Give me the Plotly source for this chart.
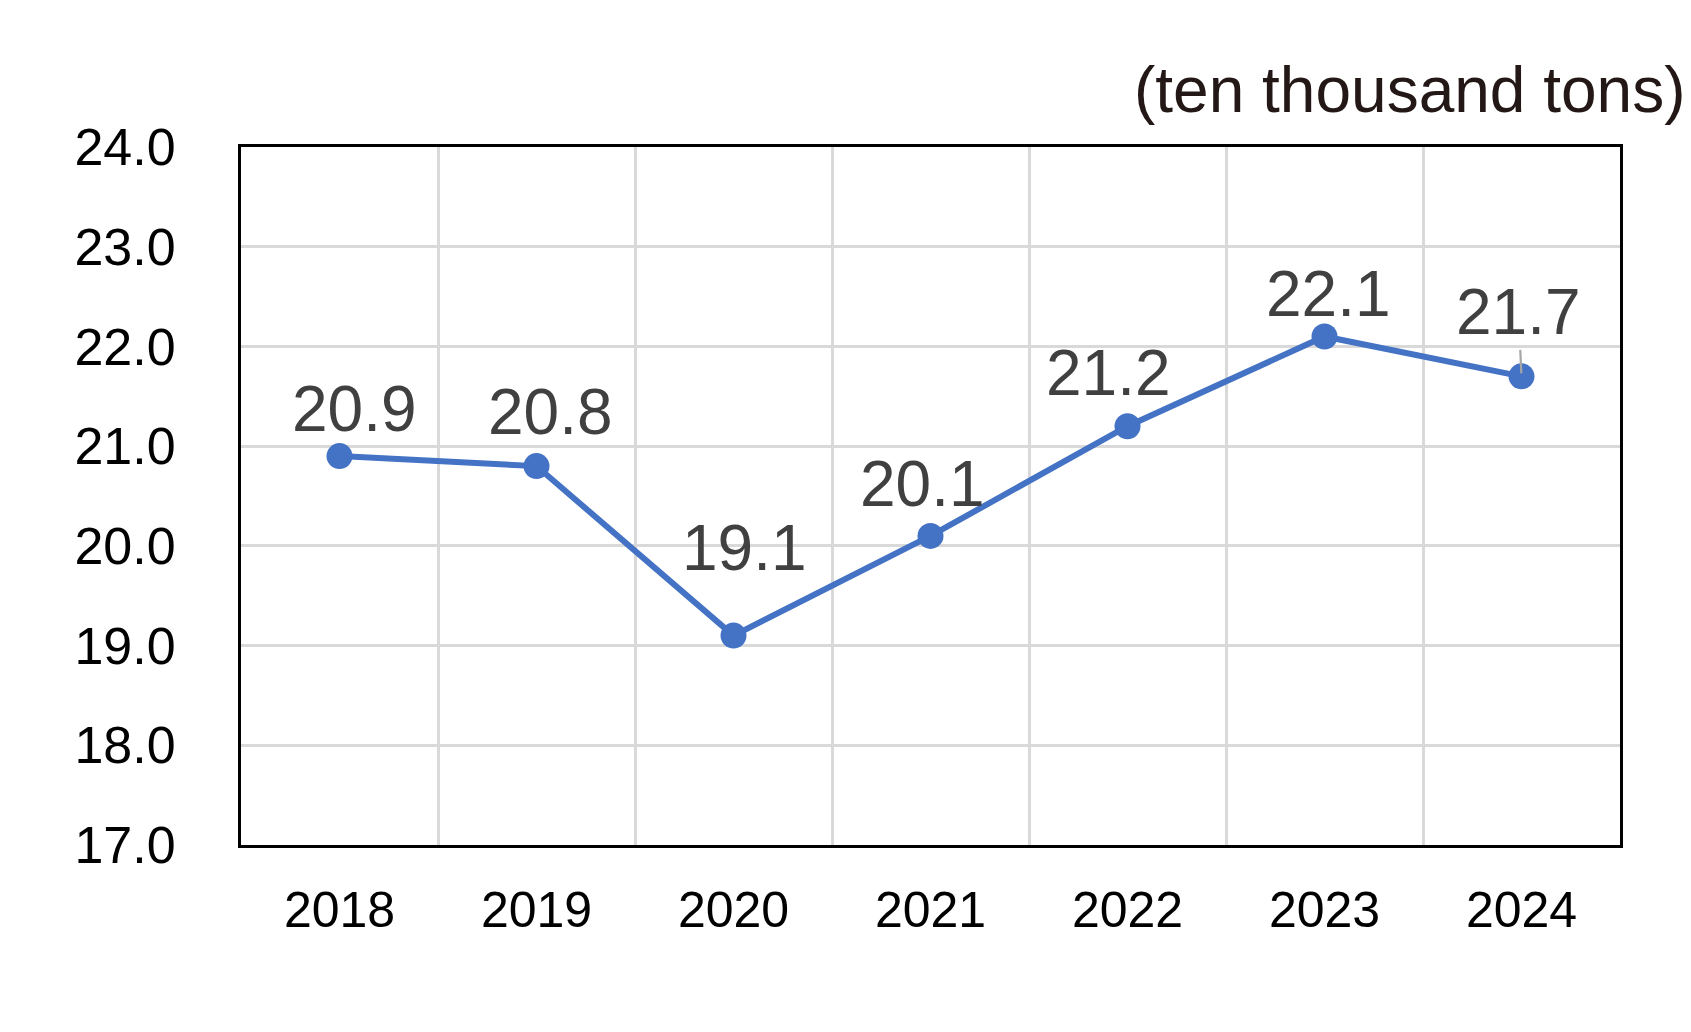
import plotly.graph_objects as go

years = ["2018", "2019", "2020", "2021", "2022", "2023", "2024"]
values = [20.9, 20.8, 19.1, 20.1, 21.2, 22.1, 21.7]
value_labels = ["20.9", "20.8", "19.1", "20.1", "21.2", "22.1", "21.7"]
y_ticks = [17, 18, 19, 20, 21, 22, 23, 24]
y_tick_text = ["17.0", "18.0", "19.0", "20.0", "21.0", "22.0", "23.0", "24.0"]
unit_text = "(ten thousand tons)"

# label offsets in pixels (style/position, not data)
label_dx = [15, 14, 11, -8, -19, 4, -3]
label_dy = [-47, -54, -88, -52, -53, -42, -64]

FONT = "Liberation Sans, Arial, sans-serif"
BLUE = "#4472C4"

fig = go.Figure()
fig.add_trace(go.Scatter(
    x=years, y=values, mode="lines+markers",
    line=dict(color=BLUE, width=6),
    marker=dict(color=BLUE, size=26),
    showlegend=False, hoverinfo="skip",
))

annotations = []
for i, (v, t) in enumerate(zip(values, value_labels)):
    leader = (i == len(values) - 1)
    annotations.append(dict(
        x=i, y=v, xref="x", yref="y", text=t,
        showarrow=True,
        arrowhead=0, arrowwidth=2.2,
        arrowcolor="#A6A6A6" if leader else "rgba(255,255,255,0)",
        standoff=3 if leader else 0,
        ax=label_dx[i], ay=label_dy[i],
        font=dict(family=FONT, size=64, color="#404040"),
        yanchor="middle", xanchor="center",
    ))

annotations.append(dict(
    x=1.0, y=1.0, xref="paper", yref="paper",
    xanchor="right", yanchor="middle", xshift=67, yshift=57,
    text=unit_text, showarrow=False,
    font=dict(family=FONT, size=64, color="#231815"),
))

fig.update_layout(
    width=1683, height=1024,
    margin=dict(l=233, r=71, t=139, b=187),
    paper_bgcolor="white", plot_bgcolor="white",
    annotations=annotations,
    font=dict(family=FONT, color="black"),
)
fig.update_xaxes(
    type="category", tickson="boundaries", range=[-0.5, 6.5],
    showgrid=True, gridcolor="#D9D9D9", gridwidth=2.5,
    showline=True, linecolor="black", linewidth=3, mirror=True,
    ticks="", tickfont=dict(family=FONT, size=50, color="black"),
    ticklabelstandoff=19,
)
fig.update_yaxes(
    range=[17, 24], tickvals=y_ticks, ticktext=y_tick_text,
    showgrid=True, gridcolor="#D9D9D9", gridwidth=2.5,
    showline=True, linecolor="black", linewidth=3, mirror=True,
    zeroline=False,
    ticks="", tickfont=dict(family=FONT, size=52, color="black"),
    ticklabelstandoff=52,
)

fig.write_html("out.html")
